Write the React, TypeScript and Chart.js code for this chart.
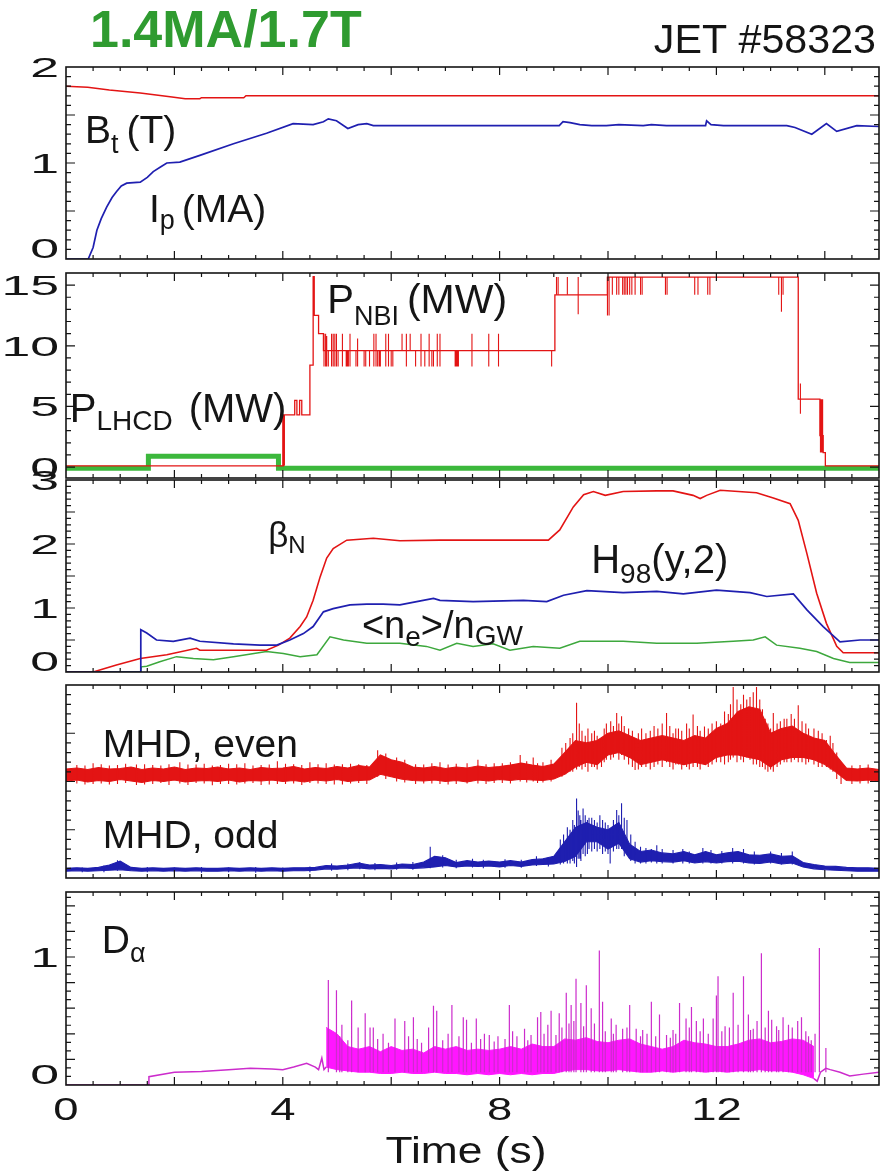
import { useEffect, useRef } from 'react';
import { Chart, registerables } from 'chart.js';

Chart.register(...registerables);

type Pair = [number, number];
type Spike = [number, number, number];

// ---------------- data ----------------
const xTickLabels = [0, 4, 8, 12];
const fieldTickLabels = [0, 1, 2];
const powerTickLabels = [0, 5, 10, 15];
const confTickLabels = [0, 1, 2, 3];
const dalphaTickLabels = [0, 1];

const toroidalField: Pair[] = [
  [0, 1.8], [0.4, 1.79], [0.8, 1.76], [1.37, 1.73], [1.92, 1.69], [2.2, 1.67], [2.47, 1.67],
  [2.5, 1.68], [3.28, 1.68], [3.32, 1.7], [15, 1.7],
];
const plasmaCurrent: Pair[] = [
  [0, 0], [0.41, 0], [0.5, 0.12], [0.57, 0.3], [0.65, 0.42], [0.75, 0.54], [0.85, 0.64], [0.93, 0.7],
  [1.02, 0.76], [1.12, 0.79], [1.37, 0.8], [1.5, 0.85], [1.61, 0.91], [1.75, 0.96], [1.86, 1.0],
  [2.1, 1.01], [2.47, 1.08], [3.09, 1.2], [3.7, 1.31], [4.19, 1.41], [4.56, 1.4], [4.75, 1.43],
  [4.84, 1.46], [4.99, 1.44], [5.2, 1.36], [5.39, 1.4], [5.55, 1.41], [5.67, 1.39], [8.0, 1.39],
  [9.1, 1.39], [9.17, 1.43], [9.3, 1.42], [9.48, 1.4], [9.7, 1.39], [9.97, 1.39], [10.2, 1.4],
  [10.65, 1.39], [10.8, 1.4], [11.08, 1.39], [11.8, 1.39], [11.82, 1.44], [11.9, 1.4], [12.13, 1.39],
  [13.3, 1.39], [13.45, 1.37], [13.76, 1.3], [14.03, 1.41], [14.22, 1.33], [14.59, 1.39], [15, 1.38],
];

const nbiPower: Pair[] = [
  [0, 0.1], [4.0, 0.1], [4.01, 4.3], [4.22, 5.5], [4.26, 4.3], [4.31, 5.5], [4.35, 4.3], [4.5, 8.4],
  [4.56, 15.7], [4.58, 12.5], [4.66, 11.0], [4.75, 9.6], [9.02, 14.2], [9.99, 15.66], [13.51, 5.6],
  [13.91, 2.6], [13.97, 1.2], [14.01, 0.1], [15, 0.1],
];
const nbiNotches: Spike[] = [
  [4.0, 0.1, 4.3], [4.02, 0.1, 4.3], [4.03, 0.1, 4.3],
  [4.76, 8.3, 11.0], [4.79, 8.3, 11.0], [4.81, 8.3, 10.8], [4.84, 8.3, 9.6], [4.9, 8.3, 11.0],
  [4.93, 8.3, 11.0], [4.96, 8.3, 11.0], [4.99, 8.3, 11.0], [5.02, 8.3, 9.6], [5.1, 8.3, 11.0],
  [5.17, 8.3, 9.6], [5.19, 8.3, 9.6], [5.21, 8.3, 9.6], [5.24, 8.3, 11.0], [5.35, 8.3, 9.6],
  [5.38, 8.3, 10.6], [5.5, 8.3, 9.6], [5.53, 8.3, 9.6], [5.6, 8.3, 9.6], [5.68, 8.3, 11.0],
  [5.72, 8.3, 11.0], [5.75, 8.3, 9.6], [5.78, 8.3, 9.6], [5.8, 8.3, 9.6], [5.9, 8.3, 11.0],
  [5.95, 8.3, 11.0], [6.0, 8.3, 9.6], [6.03, 8.3, 9.6], [6.2, 9.6, 11.0], [6.28, 8.3, 11.0],
  [6.35, 9.6, 11.0], [6.45, 8.3, 9.6], [6.55, 8.3, 11.0], [6.62, 8.3, 9.6], [6.7, 8.3, 11.0],
  [6.75, 8.3, 9.6], [6.78, 8.3, 9.6], [6.85, 8.3, 11.0], [6.9, 8.3, 11.0],
  [7.18, 8.3, 9.6], [7.2, 8.3, 9.6], [7.22, 8.3, 9.6], [7.24, 8.3, 9.6], [7.49, 8.3, 11.0],
  [7.8, 8.3, 11.0], [7.98, 8.3, 11.0], [8.96, 8.3, 9.6],
  [9.05, 14.2, 15.66], [9.08, 14.2, 15.66], [9.25, 14.2, 15.66], [9.45, 12.6, 15.66],
  [9.99, 12.5, 15.66], [10.02, 12.5, 15.66], [10.08, 14.2, 15.66], [10.16, 14.2, 15.66],
  [10.2, 14.2, 15.66], [10.27, 14.2, 15.66], [10.3, 14.2, 15.66], [10.33, 14.2, 15.66],
  [10.36, 14.2, 15.66], [10.4, 14.2, 15.66], [10.44, 14.2, 15.66], [10.5, 14.2, 15.66],
  [10.6, 14.2, 15.66], [10.63, 14.2, 15.66], [11.06, 14.2, 15.66], [11.09, 14.2, 15.66],
  [11.6, 14.2, 15.66], [11.66, 14.2, 15.66], [11.84, 14.2, 15.66], [11.88, 14.2, 15.66],
  [13.15, 14.2, 15.66], [13.2, 12.8, 15.66], [13.23, 14.2, 15.66], [13.55, 4.4, 6.9],
  [13.92, 1.2, 5.6], [13.94, 1.2, 5.6], [13.96, 1.2, 5.6],
];
const lhcdPower: Pair[] = [[0, -0.1], [1.52, 0.9], [3.92, -0.1], [15, -0.1]];

const betaN: Pair[] = [
  [0, 0], [0.5, 0], [0.93, 0.11], [1.37, 0.21], [1.86, 0.27], [2.41, 0.37], [2.47, 0.34], [3.7, 0.34],
  [3.92, 0.42], [4.13, 0.53], [4.32, 0.71], [4.44, 0.86], [4.56, 1.12], [4.69, 1.49], [4.81, 1.78],
  [4.93, 1.93], [5.18, 2.06], [5.67, 2.09], [6.16, 2.05], [6.9, 2.06], [8.9, 2.06], [9.11, 2.22],
  [9.36, 2.58], [9.55, 2.77], [9.73, 2.82], [9.95, 2.76], [10.28, 2.82], [10.9, 2.83], [11.2, 2.83],
  [11.57, 2.76], [11.7, 2.71], [11.82, 2.76], [12.07, 2.84], [12.74, 2.8], [13.05, 2.72],
  [13.36, 2.63], [13.51, 2.37], [13.67, 1.85], [13.85, 1.23], [14.03, 0.76], [14.22, 0.4],
  [14.34, 0.3], [15, 0.3],
];
const h98: Pair[] = [
  [0, 0], [1.37, 0], [1.38, 0.66], [1.49, 0.61], [1.67, 0.5], [1.98, 0.48], [2.29, 0.53], [2.47, 0.48],
  [3.09, 0.44], [3.58, 0.42], [3.89, 0.42], [4.13, 0.5], [4.38, 0.6], [4.56, 0.71], [4.75, 0.94],
  [4.93, 0.99], [5.24, 1.05], [5.55, 1.06], [5.85, 1.06], [6.16, 1.05], [6.47, 1.1], [6.78, 1.15],
  [6.9, 1.12], [7.51, 1.1], [8.44, 1.12], [8.87, 1.1], [9.18, 1.2], [9.61, 1.27], [10.28, 1.24],
  [10.9, 1.26], [11.39, 1.22], [12.0, 1.28], [12.62, 1.24], [12.93, 1.18], [13.42, 1.22],
  [13.67, 0.97], [13.97, 0.71], [14.28, 0.47], [14.65, 0.5], [15, 0.5],
];
const greenwaldFraction: Pair[] = [
  [0, 0], [1.38, 0], [1.39, 0.08], [1.49, 0.09], [1.73, 0.16], [2.04, 0.24], [2.35, 0.21], [2.72, 0.19],
  [3.09, 0.24], [3.7, 0.32], [4.01, 0.29], [4.32, 0.24], [4.63, 0.27], [4.87, 0.55], [5.12, 0.5],
  [5.55, 0.45], [6.16, 0.45], [6.65, 0.4], [6.9, 0.34], [7.21, 0.45], [7.51, 0.4], [7.88, 0.44],
  [8.19, 0.34], [8.62, 0.4], [9.11, 0.37], [9.48, 0.48], [10.28, 0.48], [10.9, 0.45], [11.64, 0.45],
  [12.31, 0.48], [12.68, 0.5], [12.9, 0.55], [13.11, 0.42], [13.54, 0.37], [13.85, 0.32],
  [14.16, 0.21], [14.46, 0.15], [15, 0.15],
];

// MHD envelopes sampled every 0.2 s from 0 to 15 s
const mhdTime: number[] = Array.from({ length: 76 }, (_, i) => Math.round(i * 2) / 10);
const mhdEvenUpper = [
  2.26, 2.28, 2.25, 2.29, 2.26, 2.27, 2.3, 2.25, 2.28, 2.26, 2.3, 2.25, 2.28, 2.27, 2.3, 2.26, 2.28, 2.25,
  2.29, 2.27, 2.28, 2.31, 2.26, 2.29, 2.27, 2.31, 2.28, 2.33, 2.3,
  2.55, 2.45, 2.4, 2.3, 2.28, 2.31, 2.27, 2.3, 2.28, 2.32, 2.29, 2.31, 2.34, 2.38, 2.34, 2.31, 2.36,
  2.6, 2.85, 2.8, 2.85, 3.0, 3.05, 2.95, 2.85, 2.9, 2.95, 2.9, 2.85, 2.95, 2.9, 3.1, 3.2, 3.45, 3.55,
  3.5, 3.0, 3.1, 3.15, 3.0, 2.9, 2.85, 2.55, 2.28, 2.26, 2.28, 2.25,
];
const mhdEvenLower = [
  2.01, 2.03, 1.99, 2.02, 2.0, 2.04, 2.01, 1.98, 2.02, 2.0, 2.03, 1.99, 2.01, 2.02, 2.0, 2.03, 1.99, 2.02,
  2.01, 2.03, 2.0, 2.02, 1.99, 2.03, 2.01, 2.04, 2.0, 2.02, 2.03,
  2.15, 2.1, 2.05, 2.02, 2.01, 2.03, 2.0, 2.02, 1.99, 2.03, 2.01, 2.04, 2.02, 2.05, 2.03, 2.02, 2.05,
  2.15, 2.3, 2.4, 2.35, 2.55, 2.6, 2.5, 2.35, 2.4, 2.45, 2.4, 2.35, 2.4, 2.35, 2.5, 2.55, 2.55, 2.5,
  2.45, 2.3, 2.45, 2.5, 2.5, 2.45, 2.35, 2.2, 2.02, 2.01, 2.03, 2.0,
];
const mhdEvenSpikes: Spike[] = [
  [0.2, 1.96, 2.34], [0.35, 1.94, 2.33], [0.5, 1.95, 2.38], [0.65, 1.96, 2.36], [0.8, 1.94, 2.33],
  [0.95, 1.95, 2.34], [1.1, 1.97, 2.37], [1.3, 1.93, 2.35], [1.45, 1.94, 2.36], [1.6, 1.95, 2.34],
  [1.75, 1.97, 2.33], [1.9, 1.93, 2.36], [2.1, 1.96, 2.4], [2.25, 1.93, 2.35], [2.4, 1.97, 2.35],
  [2.55, 1.96, 2.37], [2.7, 1.92, 2.33], [2.85, 1.95, 2.34], [3.0, 1.95, 2.37], [3.15, 1.94, 2.36],
  [3.3, 1.96, 2.38], [3.45, 1.97, 2.33], [3.6, 1.93, 2.34], [3.75, 1.94, 2.35], [3.9, 1.95, 2.42],
  [4.05, 1.95, 2.37], [4.2, 1.96, 2.36], [4.35, 1.93, 2.34], [4.5, 1.97, 2.4], [4.65, 1.96, 2.36],
  [4.8, 1.95, 2.38], [4.95, 1.94, 2.35], [5.1, 1.94, 2.36], [5.25, 1.96, 2.37], [5.4, 1.97, 2.36],
  [5.55, 1.95, 2.34], [5.75, 2.1, 2.65], [5.9, 2.05, 2.58], [6.1, 2.0, 2.5], [6.25, 1.98, 2.45],
  [6.45, 1.95, 2.36], [6.6, 1.96, 2.35], [6.75, 1.96, 2.38], [6.9, 1.95, 2.4], [7.05, 1.94, 2.35],
  [7.2, 1.95, 2.37], [7.4, 1.96, 2.38], [7.6, 1.96, 2.45], [7.75, 1.95, 2.36], [7.9, 1.97, 2.38],
  [8.05, 1.97, 2.38], [8.2, 1.96, 2.4], [8.38, 2.0, 2.55], [8.5, 1.98, 2.42], [8.62, 2.0, 2.5],
  [8.7, 1.97, 2.38], [8.8, 1.98, 2.4], [8.95, 2.0, 2.45],
  [9.15, 2.1, 2.7], [9.22, 2.15, 2.8], [9.3, 2.2, 2.9], [9.35, 2.2, 3.0], [9.42, 2.25, 3.63],
  [9.47, 2.3, 3.2], [9.52, 2.25, 3.05], [9.58, 2.3, 2.95], [9.63, 2.2, 3.1], [9.7, 2.3, 3.0],
  [9.75, 2.3, 3.05], [9.8, 2.25, 2.95], [9.88, 2.3, 2.9], [9.93, 2.4, 3.1], [9.97, 2.45, 3.2],
  [10.05, 2.45, 3.25], [10.1, 2.5, 3.15], [10.16, 2.6, 3.42], [10.2, 2.45, 3.2], [10.25, 2.55, 3.35],
  [10.3, 2.45, 3.15], [10.38, 2.35, 3.1], [10.45, 2.3, 3.05], [10.5, 2.24, 2.9], [10.56, 2.25, 3.0],
  [10.62, 2.3, 3.1], [10.7, 2.3, 3.0], [10.78, 2.25, 3.05], [10.85, 2.3, 3.15], [10.92, 2.35, 3.1],
  [11.0, 2.3, 3.2], [11.08, 2.4, 3.42], [11.14, 2.3, 3.15], [11.2, 2.25, 3.0], [11.25, 2.35, 3.1],
  [11.3, 2.35, 3.1], [11.36, 2.25, 3.05], [11.45, 2.3, 3.2], [11.5, 2.25, 3.1], [11.57, 2.3, 3.39],
  [11.65, 2.3, 3.15], [11.7, 2.25, 3.05], [11.78, 2.35, 3.14], [11.85, 2.3, 3.1], [11.92, 2.35, 3.2],
  [12.0, 2.4, 3.25], [12.08, 2.4, 3.2], [12.15, 2.35, 3.45], [12.22, 2.4, 3.4], [12.26, 2.45, 3.6],
  [12.31, 2.5, 3.96], [12.38, 2.4, 3.7], [12.45, 2.45, 3.6], [12.5, 2.4, 3.8], [12.56, 2.5, 3.7],
  [12.62, 2.45, 3.75], [12.68, 2.35, 3.85], [12.74, 2.35, 3.96], [12.8, 2.3, 3.7], [12.85, 2.3, 3.5],
  [12.9, 2.25, 3.3], [12.95, 2.2, 3.2], [13.0, 2.25, 3.1], [13.05, 2.2, 3.42], [13.12, 2.3, 3.2],
  [13.18, 2.35, 3.25], [13.25, 2.4, 3.3], [13.3, 2.4, 3.3], [13.38, 2.4, 3.4], [13.44, 2.45, 3.3],
  [13.51, 2.4, 3.58], [13.58, 2.4, 3.25], [13.65, 2.35, 3.2], [13.7, 2.4, 3.1], [13.8, 2.35, 3.1],
  [13.88, 2.3, 3.05], [13.95, 2.3, 3.0], [14.03, 2.3, 2.86], [14.1, 2.25, 2.95], [14.15, 2.2, 2.8],
  [14.22, 2.05, 2.6], [14.3, 1.95, 2.4], [14.5, 1.95, 2.33], [14.65, 1.96, 2.34], [14.8, 1.96, 2.35],
];
const mhdOddUpper = [
  0.2, 0.21, 0.2, 0.22, 0.27, 0.35, 0.22, 0.2, 0.21, 0.2,
  0.21, 0.2, 0.21, 0.2, 0.2, 0.21, 0.2, 0.21, 0.2, 0.21,
  0.2, 0.21, 0.21, 0.22, 0.26, 0.25, 0.27, 0.31, 0.27, 0.28,
  0.26, 0.29, 0.28, 0.33, 0.45, 0.42, 0.32, 0.36, 0.33, 0.35,
  0.33, 0.36, 0.33, 0.38, 0.4, 0.45, 0.75, 1.05, 1.15, 1.05,
  1.0, 1.15, 0.7, 0.55, 0.58, 0.52, 0.5, 0.55, 0.48, 0.55,
  0.48, 0.52, 0.55, 0.48, 0.47, 0.5, 0.45, 0.46, 0.32, 0.28,
  0.25, 0.24, 0.22, 0.21, 0.21, 0.2,
];
const mhdOddLower = [
  0.14, 0.15, 0.14, 0.15, 0.16, 0.17, 0.15, 0.14, 0.15, 0.14,
  0.15, 0.14, 0.15, 0.14, 0.14, 0.15, 0.14, 0.15, 0.14, 0.15,
  0.14, 0.15, 0.15, 0.16, 0.19, 0.18, 0.2, 0.21, 0.19, 0.2,
  0.19, 0.21, 0.2, 0.21, 0.23, 0.26, 0.23, 0.25, 0.24, 0.25,
  0.23, 0.26, 0.24, 0.27, 0.28, 0.29, 0.34, 0.45, 0.75, 0.75,
  0.6, 0.72, 0.4, 0.33, 0.36, 0.34, 0.33, 0.36, 0.31, 0.34,
  0.31, 0.34, 0.35, 0.31, 0.3, 0.33, 0.29, 0.31, 0.23, 0.19,
  0.17, 0.16, 0.15, 0.14, 0.14, 0.14,
];
const mhdOddSpikes: Spike[] = [
  [0.3, 0.12, 0.22], [0.7, 0.12, 0.26], [0.95, 0.15, 0.37], [1.5, 0.12, 0.23], [2.0, 0.12, 0.22],
  [2.5, 0.11, 0.23], [3.0, 0.12, 0.22], [3.5, 0.11, 0.23], [4.0, 0.12, 0.22], [4.5, 0.12, 0.24],
  [4.9, 0.15, 0.3], [5.2, 0.16, 0.3], [5.42, 0.18, 0.33], [5.7, 0.16, 0.31], [6.1, 0.17, 0.32],
  [6.4, 0.17, 0.33], [6.72, 0.2, 0.65], [6.95, 0.22, 0.47], [7.2, 0.2, 0.38], [7.5, 0.22, 0.4],
  [7.7, 0.2, 0.38], [8.1, 0.21, 0.39], [8.4, 0.21, 0.38], [8.68, 0.25, 0.45], [8.9, 0.24, 0.42],
  [9.12, 0.28, 0.8], [9.18, 0.3, 0.9], [9.25, 0.3, 1.05], [9.3, 0.3, 1.0], [9.35, 0.35, 1.2],
  [9.38, 0.3, 1.1], [9.42, 0.23, 1.65], [9.45, 0.4, 1.4], [9.48, 0.4, 1.3], [9.5, 0.35, 1.2],
  [9.54, 0.5, 1.44], [9.58, 0.45, 1.3], [9.62, 0.5, 1.2], [9.65, 0.6, 1.25], [9.7, 0.55, 1.25],
  [9.75, 0.6, 1.2], [9.8, 0.55, 1.15], [9.85, 0.6, 1.3], [9.9, 0.5, 1.2], [9.95, 0.55, 1.15],
  [10.0, 0.5, 1.1], [10.04, 0.3, 1.0], [10.1, 0.55, 1.2], [10.16, 0.6, 1.41], [10.2, 0.6, 1.3],
  [10.25, 0.6, 1.55], [10.3, 0.45, 1.25], [10.35, 0.5, 1.2], [10.42, 0.35, 0.9], [10.5, 0.3, 0.75],
  [10.6, 0.3, 0.65], [10.7, 0.3, 0.62], [10.8, 0.32, 0.6], [10.9, 0.3, 0.68], [11.0, 0.3, 0.6],
  [11.2, 0.3, 0.58], [11.38, 0.3, 0.6], [11.5, 0.3, 0.55], [11.75, 0.3, 0.62], [11.9, 0.3, 0.58],
  [12.1, 0.3, 0.56], [12.3, 0.3, 0.62], [12.5, 0.3, 0.6], [12.7, 0.28, 0.55], [13.0, 0.3, 0.55],
  [13.2, 0.28, 0.52], [13.4, 0.28, 0.55],
];

const dalphaQuiet: Pair[] = [
  [0, 0], [1.52, 0], [1.53, 0.065], [2.0, 0.1], [2.5, 0.105], [3.0, 0.12], [3.4, 0.13], [3.8, 0.125],
  [4.0, 0.12], [4.2, 0.14], [4.44, 0.17], [4.6, 0.14], [4.66, 0.12], [4.72, 0.21], [4.76, 0.12],
  [4.8, 0.14],
];
const dalphaTail: Pair[] = [
  [13.8, 0.05], [13.86, 0.03], [13.92, 0.1], [14.02, 0.13], [14.1, 0.12], [14.28, 0.1], [14.46, 0.07],
  [14.71, 0.085], [15, 0.1],
];
// ELM band sampled every 0.2 s from 4.8 to 13.8 s
const dalphaBandTime: number[] = Array.from({ length: 46 }, (_, i) => Math.round(48 + i * 2) / 10);
const dalphaBandUpper = [
  0.45, 0.4, 0.3, 0.28, 0.3, 0.26, 0.3, 0.27, 0.28, 0.25, 0.3, 0.28, 0.3, 0.27, 0.28, 0.27, 0.28, 0.3,
  0.28, 0.32, 0.3, 0.3, 0.36, 0.35, 0.37, 0.34, 0.33, 0.35, 0.36, 0.32, 0.3, 0.28, 0.3, 0.35, 0.33,
  0.32, 0.3, 0.3, 0.32, 0.35, 0.36, 0.33, 0.34, 0.36, 0.35, 0.3,
];
const dalphaBandLower = [
  0.14, 0.12, 0.11, 0.1, 0.1, 0.09, 0.09, 0.1, 0.09, 0.09, 0.1, 0.09, 0.09, 0.08, 0.09, 0.08, 0.09,
  0.08, 0.09, 0.08, 0.09, 0.09, 0.11, 0.12, 0.12, 0.11, 0.11, 0.12, 0.11, 0.1, 0.1, 0.11, 0.1, 0.11,
  0.11, 0.1, 0.11, 0.1, 0.11, 0.11, 0.12, 0.11, 0.11, 0.1, 0.08, 0.05,
];
const dalphaElmPeaks: Pair[] = [
  [4.84, 0.82], [4.99, 0.74], [5.05, 0.38], [5.09, 0.47], [5.2, 0.35], [5.27, 0.66], [5.39, 0.45],
  [5.52, 0.56], [5.61, 0.45], [5.67, 0.45], [5.75, 0.36], [5.85, 0.4], [5.95, 0.33], [6.07, 0.52],
  [6.25, 0.5], [6.32, 0.38], [6.41, 0.53], [6.48, 0.36], [6.56, 0.33], [6.69, 0.45], [6.78, 0.62],
  [6.84, 0.58], [6.95, 0.35], [7.05, 0.4], [7.12, 0.625], [7.25, 0.38], [7.33, 0.53], [7.39, 0.51],
  [7.48, 0.33], [7.57, 0.52], [7.65, 0.36], [7.72, 0.4], [7.81, 0.39], [7.9, 0.34], [7.97, 0.38],
  [8.1, 0.36], [8.18, 0.625], [8.24, 0.42], [8.32, 0.38], [8.46, 0.44], [8.52, 0.35], [8.58, 0.39],
  [8.7, 0.53], [8.76, 0.57], [8.82, 0.4], [8.89, 0.47], [8.95, 0.58], [9.04, 0.39], [9.1, 0.56],
  [9.15, 0.45], [9.23, 0.72], [9.28, 0.48], [9.32, 0.625], [9.37, 0.5], [9.41, 0.83], [9.5, 0.64],
  [9.55, 0.46], [9.6, 0.78], [9.69, 0.6], [9.75, 0.48], [9.84, 1.05], [9.9, 0.65], [9.95, 0.42],
  [10.06, 0.52], [10.1, 0.4], [10.15, 0.47], [10.27, 0.44], [10.35, 0.45], [10.4, 0.625],
  [10.52, 0.44], [10.6, 0.38], [10.64, 0.43], [10.72, 0.4], [10.8, 0.65], [10.88, 0.38],
  [10.95, 0.55], [11.08, 0.39], [11.15, 0.37], [11.2, 0.43], [11.25, 0.4], [11.32, 0.64],
  [11.44, 0.52], [11.5, 0.45], [11.54, 0.61], [11.63, 0.5], [11.7, 0.42], [11.76, 0.52],
  [11.85, 0.4], [11.94, 0.52], [12.0, 0.7], [12.03, 0.85], [12.1, 0.42], [12.16, 0.46],
  [12.24, 0.45], [12.31, 0.72], [12.4, 0.47], [12.5, 0.85], [12.59, 0.55], [12.63, 0.43],
  [12.68, 0.44], [12.75, 0.5], [12.83, 1.03], [12.9, 0.45], [12.96, 0.58], [13.02, 0.51],
  [13.11, 0.46], [13.15, 0.43], [13.23, 0.53], [13.33, 0.47], [13.4, 0.45], [13.5, 0.5],
  [13.57, 0.53], [13.65, 0.42], [13.7, 0.38], [13.75, 0.35], [13.82, 0.4], [13.9, 1.07], [14.02, 0.29],
];

// ---------------- styling ----------------
const FAMILY = "'Liberation Sans', Arial, Helvetica, sans-serif";
const INK = '#151515';
const RED = '#e31414';
const BLUE = '#1f1fb0';
const GREEN = '#3da83d';
const LHCD_GREEN = '#3cb83c';
const MAGENTA = '#ff16ff';
const MAGENTA_DARK = '#cc2ccc';
const TITLE_GREEN = '#2f9b30';

type Part = { t: string; size: number; dy?: number; dx?: number; bold?: boolean };
type Label = { x: number; y: number; parts: Part[]; sx?: number };

const pts = (p: Pair[]) => p.map(([x, y]) => ({ x, y }));
const env = (times: number[], vals: number[]) => times.map((x, i) => ({ x, y: vals[i] }));
const spikes = (s: Spike[]) =>
  s.flatMap(([x, lo, hi]) => [{ x, y: lo }, { x, y: hi }, { x, y: null as any }]);
const elmSpikes = (s: Pair[], base: number) =>
  s.flatMap(([x, hi]) => [{ x, y: base }, { x, y: hi }, { x, y: null as any }]);

const line = (data: any[], color: string, width: number, extra: any = {}) => ({
  data,
  borderColor: color,
  backgroundColor: color,
  borderWidth: width,
  pointRadius: 0,
  fill: false,
  tension: 0,
  spanGaps: false,
  ...extra,
});

function fontOf(p: Part) {
  return `${p.bold ? 'bold ' : ''}${p.size}px ${FAMILY}`;
}

function drawParts(
  ctx: CanvasRenderingContext2D,
  x: number,
  y: number,
  parts: Part[],
  sx = 1,
  align: 'left' | 'right' | 'center' = 'left',
  color = INK,
) {
  ctx.save();
  ctx.fillStyle = color;
  ctx.textBaseline = 'alphabetic';
  ctx.textAlign = 'left';
  let w = 0;
  for (const p of parts) {
    ctx.font = fontOf(p);
    w += (p.dx || 0) + ctx.measureText(p.t).width;
  }
  const start = align === 'left' ? x : align === 'right' ? x - w * sx : x - (w * sx) / 2;
  ctx.translate(start, y);
  ctx.scale(sx, 1);
  let cx = 0;
  for (const p of parts) {
    ctx.font = fontOf(p);
    cx += p.dx || 0;
    ctx.fillText(p.t, cx, p.dy || 0);
    cx += ctx.measureText(p.t).width;
  }
  ctx.restore();
}

type Panel = {
  top: number;
  bottom: number;
  canvasTop: number;
  canvasHeight: number;
  yMin: number;
  yMax: number;
  yMinor: number;
  yMajor: number;
  yLabels: number[];
  datasets: () => any[];
  labels: Label[];
  extra?: (ctx: CanvasRenderingContext2D, chart: any) => void;
};

const PANELS: Panel[] = [
  {
    top: 67, bottom: 259, canvasTop: 0, canvasHeight: 280,
    yMin: 0, yMax: 2, yMinor: 0.1, yMajor: 0.5, yLabels: fieldTickLabels,
    datasets: () => [line(pts(plasmaCurrent), BLUE, 1.7), line(pts(toroidalField), RED, 1.5)],
    labels: [
      { x: 0.35, y: 1.208, parts: [{ t: 'B', size: 39 }, { t: 't', size: 27, dy: 10 }, { t: '(T)', size: 39, dx: 8 }] },
      { x: 1.53, y: 0.385, parts: [{ t: 'I', size: 39 }, { t: 'p', size: 27, dy: 7 }, { t: '(MA)', size: 39, dx: 7 }] },
    ],
    extra: (ctx) => {
      drawParts(ctx, 90, 47, [{ t: '1.4MA/1.7T', size: 52, bold: true }], 1, 'left', TITLE_GREEN);
      drawParts(ctx, 876, 53, [{ t: 'JET #58323', size: 40 }], 1.03, 'right');
    },
  },
  {
    top: 273, bottom: 478, canvasTop: 260, canvasHeight: 230,
    yMin: -0.9, yMax: 16, yMinor: 1, yMajor: 5, yLabels: powerTickLabels,
    datasets: () => [
      line(pts(nbiPower), RED, 1.3, { stepped: true }),
      line(spikes(nbiNotches), RED, 1.1),
      line(pts(lhcdPower), LHCD_GREEN, 5, { stepped: true }),
    ],
    labels: [
      { x: 4.82, y: 12.67, parts: [{ t: 'P', size: 40 }, { t: 'NBI', size: 27, dy: 12 }, { t: '(MW)', size: 41, dx: 8 }] },
      { x: 0.07, y: 3.7, parts: [{ t: 'P', size: 40 }, { t: 'LHCD', size: 28, dy: 8 }, { t: '(MW)', size: 40, dx: 16 }] },
    ],
  },
  {
    top: 480, bottom: 672, canvasTop: 470, canvasHeight: 215,
    yMin: 0, yMax: 3, yMinor: 0.1, yMajor: 0.5, yLabels: confTickLabels,
    datasets: () => [
      line(pts(h98), BLUE, 1.7),
      line(pts(betaN), RED, 1.6),
      line(pts(greenwaldFraction), GREEN, 1.5),
    ],
    labels: [
      { x: 3.73, y: 1.95, parts: [{ t: 'β', size: 35 }, { t: 'N', size: 24, dy: 6 }] },
      { x: 9.69, y: 1.547, parts: [{ t: 'H', size: 40 }, { t: '98', size: 28, dy: 10 }, { t: '(y,2)', size: 40 }] },
      {
        x: 5.46, y: 0.53,
        parts: [{ t: '<n', size: 38 }, { t: 'e', size: 28, dy: 8 }, { t: '>/n', size: 38 }, { t: 'GW', size: 28, dy: 7 }],
      },
    ],
  },
  {
    top: 685, bottom: 878, canvasTop: 675, canvasHeight: 215,
    yMin: 0, yMax: 4, yMinor: 0.2, yMajor: 1, yLabels: [],
    datasets: () => [
      line(spikes(mhdEvenSpikes), RED, 1.1),
      line(env(mhdTime, mhdEvenLower), RED, 1.1),
      line(env(mhdTime, mhdEvenUpper), RED, 1.1, { fill: '-1' }),
      line(spikes(mhdOddSpikes), BLUE, 1.1),
      line(env(mhdTime, mhdOddLower), BLUE, 1.1),
      line(env(mhdTime, mhdOddUpper), BLUE, 1.1, { fill: '-1' }),
    ],
    labels: [
      { x: 0.68, y: 2.51, parts: [{ t: 'MHD, even', size: 39 }] },
      { x: 0.68, y: 0.62, parts: [{ t: 'MHD, odd', size: 39 }] },
    ],
  },
  {
    top: 892, bottom: 1085, canvasTop: 880, canvasHeight: 291,
    yMin: 0, yMax: 1.508, yMinor: 1 / 15, yMajor: 0.2, yLabels: dalphaTickLabels,
    datasets: () => [
      line(elmSpikes(dalphaElmPeaks, 0.1), MAGENTA_DARK, 1.2),
      line(pts(dalphaQuiet), MAGENTA_DARK, 1.5),
      line(pts(dalphaTail), MAGENTA_DARK, 1.5),
      line(env(dalphaBandTime, dalphaBandLower), MAGENTA, 1),
      line(env(dalphaBandTime, dalphaBandUpper), MAGENTA, 1, { fill: '-1' }),
    ],
    labels: [{ x: 0.66, y: 1.031, parts: [{ t: 'D', size: 39 }, { t: 'α', size: 27, dy: 9 }] }],
    extra: (ctx, chart) => {
      const xs = chart.scales.x;
      const base = chart.chartArea.bottom;
      for (const v of xTickLabels) {
        drawParts(ctx, xs.getPixelForValue(v), base + 35, [{ t: String(v), size: 32 }], 1.42, 'center');
      }
      drawParts(ctx, 466, base + 78, [{ t: 'Time (s)', size: 37 }], 1.2, 'center');
    },
  },
];

function framePlugin(p: Panel) {
  return {
    id: 'panelFrame',
    afterDatasetsDraw(chart: any) {
      const ctx: CanvasRenderingContext2D = chart.ctx;
      const a = chart.chartArea;
      const xs = chart.scales.x;
      const ys = chart.scales.y;
      ctx.save();
      ctx.strokeStyle = INK;
      ctx.lineWidth = 1.2;
      ctx.beginPath();
      for (let k = 1; k < 30; k++) {
        const px = xs.getPixelForValue(k * 0.5);
        const len = k % 4 === 0 ? 8 : 4;
        ctx.moveTo(px, a.top);
        ctx.lineTo(px, a.top + len);
        ctx.moveTo(px, a.bottom);
        ctx.lineTo(px, a.bottom - len);
      }
      const k0 = Math.ceil(p.yMin / p.yMinor - 1e-6);
      const k1 = Math.floor(p.yMax / p.yMinor + 1e-6);
      for (let k = k0; k <= k1; k++) {
        const v = k * p.yMinor;
        const py = ys.getPixelForValue(v);
        if (py <= a.top + 1 || py >= a.bottom - 1) continue;
        const r = v / p.yMajor;
        const len = Math.abs(r - Math.round(r)) < 1e-6 ? 9 : 5;
        ctx.moveTo(a.left, py);
        ctx.lineTo(a.left + len, py);
        ctx.moveTo(a.right, py);
        ctx.lineTo(a.right - len, py);
      }
      ctx.stroke();
      ctx.lineWidth = 1.6;
      ctx.strokeRect(a.left, a.top, a.right - a.left, a.bottom - a.top);
      ctx.restore();

      for (const v of p.yLabels) {
        const py = Math.min(ys.getPixelForValue(v), a.bottom - 11);
        drawParts(ctx, 59, py + 10, [{ t: String(v), size: 28 }], 1.85, 'right');
      }
      for (const l of p.labels) {
        drawParts(ctx, xs.getPixelForValue(l.x), ys.getPixelForValue(l.y), l.parts, l.sx || 1, 'left');
      }
      if (p.extra) p.extra(ctx, chart);
    },
  };
}

function PanelCanvas({ panel }: { panel: Panel }) {
  const ref = useRef<HTMLCanvasElement>(null);
  useEffect(() => {
    const canvas = ref.current;
    if (!canvas) return;
    const chart = new Chart(canvas, {
      type: 'line',
      data: { datasets: panel.datasets() },
      options: {
        animation: false,
        responsive: false,
        devicePixelRatio: 1,
        events: [],
        layout: {
          padding: {
            left: 66,
            right: 2,
            top: panel.top - panel.canvasTop,
            bottom: panel.canvasTop + panel.canvasHeight - panel.bottom,
          },
        },
        plugins: { legend: { display: false }, tooltip: { enabled: false }, title: { display: false } },
        scales: {
          x: { type: 'linear', min: 0, max: 15, display: false },
          y: { type: 'linear', min: panel.yMin, max: panel.yMax, display: false },
        },
        elements: { point: { radius: 0 }, line: { tension: 0 } },
      } as any,
      plugins: [framePlugin(panel)],
    });
    return () => chart.destroy();
  }, [panel]);
  return (
    <canvas
      ref={ref}
      width={881}
      height={panel.canvasHeight}
      style={{ position: 'absolute', left: 0, top: panel.canvasTop, width: 881, height: panel.canvasHeight }}
    />
  );
}

export default function App() {
  return (
    <div style={{ position: 'absolute', left: 0, top: 0, width: 881, height: 1171, background: '#fff' }}>
      {PANELS.map((p, i) => (
        <PanelCanvas key={i} panel={p} />
      ))}
    </div>
  );
}
